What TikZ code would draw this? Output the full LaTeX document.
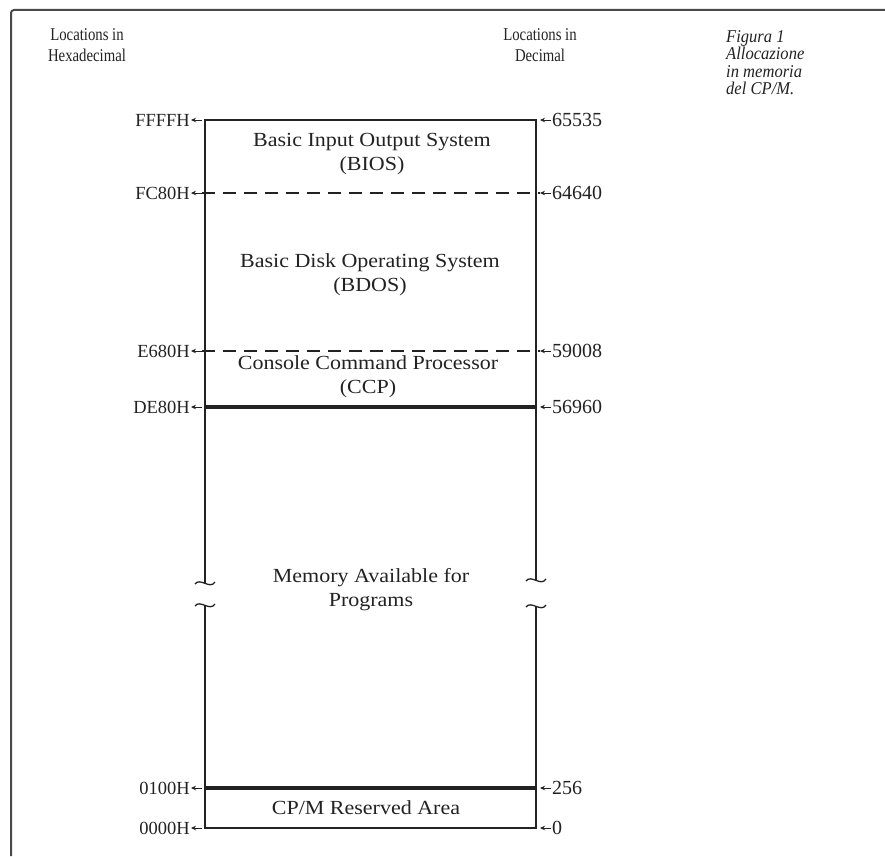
\documentclass[tikz,border=0pt]{standalone}
\usepackage{fontspec}
\setmainfont{Liberation Serif}
\newfontfamily\regionfont[FakeStretch=1.1]{Liberation Serif}
\newfontfamily\headfont[FakeStretch=0.82]{Liberation Serif}
\newfontfamily\capfont[FakeStretch=0.92]{Liberation Serif Italic}
\usetikzlibrary{arrows.meta}
\definecolor{ink}{HTML}{222222}
\definecolor{framegray}{HTML}{4A4A4A}
\tikzset{
  frameline/.style={draw=framegray, line width=2pt, rounded corners=3pt},
  boxline/.style={draw=ink, line width=1.3pt, line join=miter},
  dashline/.style={draw=ink, line width=1.3pt, dash pattern=on 13pt off 8pt},
  heavyline/.style={draw=ink, line width=3.6pt},
  lbl/.style={text=ink, inner sep=1pt},
  hexlbl/.style={lbl, font=\fontsize{18.5}{20}\selectfont, anchor=east},
  declbl/.style={lbl, font=\fontsize{20}{22}\selectfont, anchor=west},
  region/.style={font=\regionfont\fontsize{20}{24}\selectfont, align=center, text=ink, inner sep=0pt},
  headtxt/.style={font=\headfont\fontsize{18}{21}\selectfont, align=center, text=ink},
  captxt/.style={font=\capfont\fontsize{18}{17.5}\selectfont, align=left, text=ink, anchor=north west, inner sep=0pt},
  ptr/.style={-{Stealth[length=5pt,width=4.5pt]}, line width=1pt, draw=ink},
  brk/.style={draw=ink, line width=1.3pt}
}
\begin{document}
\begin{tikzpicture}[x=1pt,y=-1pt]
\useasboundingbox (0,0) rectangle (885,856);
% outer frame
\draw[frameline] (11,856) -- (11,10) -- (885,10);

% headers
\node[headtxt] (hexhead) at (87,45) {Locations in\\Hexadecimal};
\node[headtxt] (dechead) at (540,45) {Locations in\\Decimal};
\node[captxt] (cap) at (726,30) {Figura 1\\Allocazione\\in memoria\\del CP/M.};

% box outline with breaks
\draw[boxline] (205,583) -- (205,120) -- (536,120) -- (536,580);
\draw[boxline] (205,606) -- (205,828) -- (536,828) -- (536,607);
% break marks (tildes)
\draw[brk] (195,584) .. controls (200,577) and (210,590) .. (215,582);
\draw[brk] (195,606) .. controls (200,599) and (210,612) .. (215,604);
\draw[brk] (526,581) .. controls (531,574) and (541,587) .. (546,579);
\draw[brk] (526,607) .. controls (531,600) and (541,613) .. (546,605);

% hex labels and arrows
\node[hexlbl] (h0) at (191,120) {FFFFH};
\node[hexlbl] (h1) at (191,193) {FC80H};
\node[hexlbl] (h2) at (191,351) {E680H};
\node[hexlbl] (h3) at (191,407) {DE80H};
\node[hexlbl] (h4) at (191,788) {0100H};
\node[hexlbl] (h5) at (191,828) {0000H};
\coordinate (ha0) at (202,120);
\coordinate (ha1) at (202,193);
\coordinate (ha2) at (202,351);
\coordinate (ha3) at (202,407);
\coordinate (ha4) at (202,788);
\coordinate (ha5) at (202,828);
\foreach \i in {0,...,5} { \draw[ptr] (ha\i) -- (h\i); }

% decimal labels and arrows
\node[declbl] (d0) at (551,120) {65535};
\node[declbl] (d1) at (551,193) {64640};
\node[declbl] (d2) at (551,351) {59008};
\node[declbl] (d3) at (551,407) {56960};
\node[declbl] (d4) at (551,788) {256};
\node[declbl] (d5) at (551,828) {0};
\coordinate (da0) at (540,120);
\coordinate (da1) at (540,193);
\coordinate (da2) at (540,351);
\coordinate (da3) at (540,407);
\coordinate (da4) at (540,788);
\coordinate (da5) at (540,828);
\foreach \i in {0,...,5} { \draw[ptr] (d\i) -- (da\i); }

% boundaries
\draw[dashline] (ha1) -- (da1);
\draw[dashline] (ha2) -- (da2);
\coordinate (l3) at (205,407); \coordinate (r3) at (536,407);
\coordinate (l4) at (205,788); \coordinate (r4) at (536,788);
\draw[heavyline] (l3) -- (r3);
\draw[heavyline] (l4) -- (r4);

% region texts
\node[region] (bios) at (372,154) {Basic Input Output System\\(BIOS)};
\node[region] (bdos) at (370,275) {Basic Disk Operating System\\(BDOS)};
\node[region] (ccp) at (368,377) {Console Command Processor\\(CCP)};
\node[region] (tpa) at (371,590) {Memory Available for\\Programs};
\node[region] (res) at (366,808) {CP/M Reserved Area};
\end{tikzpicture}
\end{document}
